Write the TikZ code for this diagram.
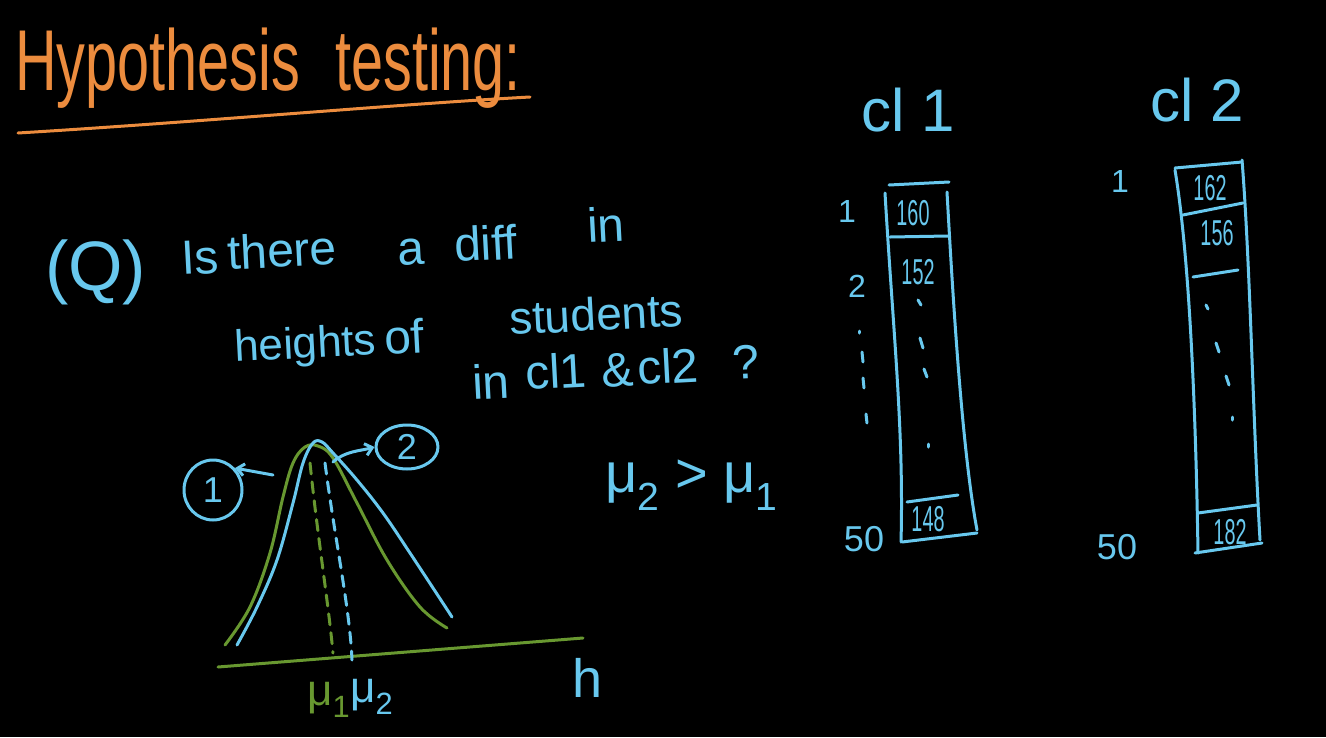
\documentclass[tikz,border=0pt]{standalone}
\usepackage{fontspec}
\setmainfont{Liberation Sans}
\usetikzlibrary{arrows.meta,shapes.geometric}
\definecolor{handorange}{RGB}{236,140,62}
\definecolor{handblue}{RGB}{104,200,238}
\definecolor{handgreen}{RGB}{104,152,48}
\newcommand\fs[1]{\fontsize{#1}{#1}\selectfont}
\newcommand\nar[1]{\scalebox{0.55}[1]{#1}}
\newcommand\tall[1]{\scalebox{0.9}[1.35]{#1}}
\tikzset{
  txt/.style={inner sep=0pt, anchor=base west},
  titletxt/.style={txt, text=handorange, font=\fs{64}},
  qtxt/.style={txt, text=handblue, font=\fs{48}, rotate=3},
  bigtxt/.style={inner sep=0pt, text=handblue, font=\fs{60}},
  numtxt/.style={inner sep=0pt, text=handblue, font=\fs{36}},
  rowtxt/.style={inner sep=0pt, text=handblue, font=\fs{32}},
  pen/.style={line width=3pt, line cap=round, line join=round},
  bluepen/.style={pen, draw=handblue},
  greenpen/.style={pen, draw=handgreen},
  circ/.style={ellipse, bluepen, inner sep=0pt, text=handblue, font=\fs{36}},
  handarrow/.style={-{Straight Barb[length=7pt,width=12pt]}},
}
\begin{document}
\begin{tikzpicture}[x=1pt,y=-1pt]
\fill[black] (0,0) rectangle (1326,737);
\useasboundingbox (0,0) rectangle (1326,737);

% ---- title
\node[titletxt] (title1) at (15,90) {\tall{Hypothesis}};
\node[titletxt] (title2) at (335,90) {\tall{testing:}};
\draw[pen, draw=handorange] (18,133) .. controls (200,122) and (400,104) .. (530,97);

% ---- question
\node[txt, text=handblue, font=\fs{70}] (q0) at (45,290) {(Q)};
\node[qtxt] (q1) at (182,275) {Is};
\node[qtxt] (q2) at (228,270) {there};
\node[qtxt] (q3) at (398,266) {a};
\node[qtxt] (q4) at (455,262) {diff};
\node[qtxt] (q5) at (588,243) {in};
\node[qtxt, font=\fs{44}] (q6) at (235,362) {heights};
\node[qtxt] (q7) at (385,355) {of};
\node[qtxt, font=\fs{46}] (q8) at (510,335) {students};
\node[qtxt] (q9) at (473,400) {in};
\node[qtxt] (q10) at (526,390) {cl1};
\node[qtxt] (q11) at (602,388) {\&};
\node[qtxt] (q12) at (638,385) {cl2};
\node[qtxt] (q13) at (733,380) {?};

% ---- mu2 > mu1
\node[txt, text=handblue, font=\fs{56}] (ineq) at (605,492) {μ\textsubscript{2} > μ\textsubscript{1}};

% ---- graph
\draw[greenpen] (218,667) -- (583,638);
\draw[greenpen] plot[smooth, tension=0.6] coordinates {(225,645) (250,607) (270,553) (283,497) (293,463) (305,447) (318,446) (333,458) (357,503) (387,560) (420,607) (447,628)};
\draw[bluepen] plot[smooth, tension=0.6] coordinates {(237,645) (257,607) (277,560) (293,503) (303,463) (313,443) (322,442) (333,453) (357,480) (383,513) (410,553) (452,617)};
\draw[greenpen, dash pattern=on 11pt off 8pt] (310,463) .. controls (318,540) and (328,600) .. (333,653);
\draw[bluepen, dash pattern=on 11pt off 8pt] (325,463) .. controls (335,540) and (350,610) .. (352,660);
\node[circ, minimum width=58pt, minimum height=60pt] (c1) at (213,490) {1};
\node[circ, minimum width=62pt, minimum height=44pt] (c2) at (407,447) {2};
\coordinate (a1) at (273,475);
\coordinate (a2) at (333,462);
\draw[bluepen, handarrow] (a1) -- (c1.45);
\draw[bluepen, handarrow] (a2) .. controls (345,451) and (360,451) .. (c2.west);
\node[txt, text=handgreen, font=\fs{44}] (mu1) at (307,705) {μ\textsubscript{1}};
\node[txt, text=handblue, font=\fs{44}] (mu2) at (350,702) {μ\textsubscript{2}};
\node[txt, text=handblue, font=\fs{54}] (haxis) at (572,697) {h};

% ---- class 1 table
\node[bigtxt] (cl1) at (908,110) {cl 1};
\draw[bluepen] (889,185) -- (949,182);
\draw[bluepen] (885,193) .. controls (893,330) and (904,430) .. (901,542);
\draw[bluepen] (947,192) .. controls (953,300) and (962,450) .. (977,530);
\draw[bluepen] (890,237) -- (948,236);
\draw[bluepen] (907,502) -- (958,495);
\draw[bluepen] (902,542) -- (977,533);
\node[numtxt] (v11) at (913,213) {\nar{160}};
\node[numtxt] (v12) at (918,272) {\nar{152}};
\node[numtxt] (v150) at (928,519) {\nar{148}};
\draw[bluepen] (918,300) -- (921,305);
\draw[bluepen] (920,338) -- (923,348);
\draw[bluepen] (924,369) -- (927,377);
\draw[bluepen] (928,444) -- (928,447);
\node[rowtxt] (r11) at (847,211) {1};
\node[rowtxt] (r12) at (857,286) {2};
\draw[bluepen] (859,331) -- (859,333);
\draw[bluepen] (862,352) -- (863,362);
\draw[bluepen] (863,378) -- (864,388);
\draw[bluepen] (866,414) -- (867,423);
\node[rowtxt, font=\fs{36}] (r150) at (864,539) {50};

% ---- class 2 table
\node[bigtxt] (cl2) at (1197,100) {cl 2};
\draw[bluepen] (1175,168) -- (1242,162);
\draw[bluepen] (1175,170) .. controls (1190,260) and (1196,420) .. (1198,553);
\draw[bluepen] (1242,160) .. controls (1250,260) and (1253,420) .. (1260,540);
\draw[bluepen] (1183,215) -- (1243,203);
\draw[bluepen] (1193,277) -- (1238,270);
\draw[bluepen] (1198,513) -- (1257,505);
\draw[bluepen] (1195,553) -- (1262,543);
\node[numtxt] (v21) at (1210,188) {\nar{162}};
\node[numtxt] (v22) at (1217,233) {\nar{156}};
\node[numtxt] (v250) at (1230,532) {\nar{182}};
\draw[bluepen] (1206,305) -- (1208,309);
\draw[bluepen] (1216,343) -- (1219,352);
\draw[bluepen] (1226,376) -- (1229,385);
\draw[bluepen] (1232,417) -- (1232,420);
\node[rowtxt] (r21) at (1120,181) {1};
\node[rowtxt, font=\fs{36}] (r250) at (1117,547) {50};
\end{tikzpicture}
\end{document}
